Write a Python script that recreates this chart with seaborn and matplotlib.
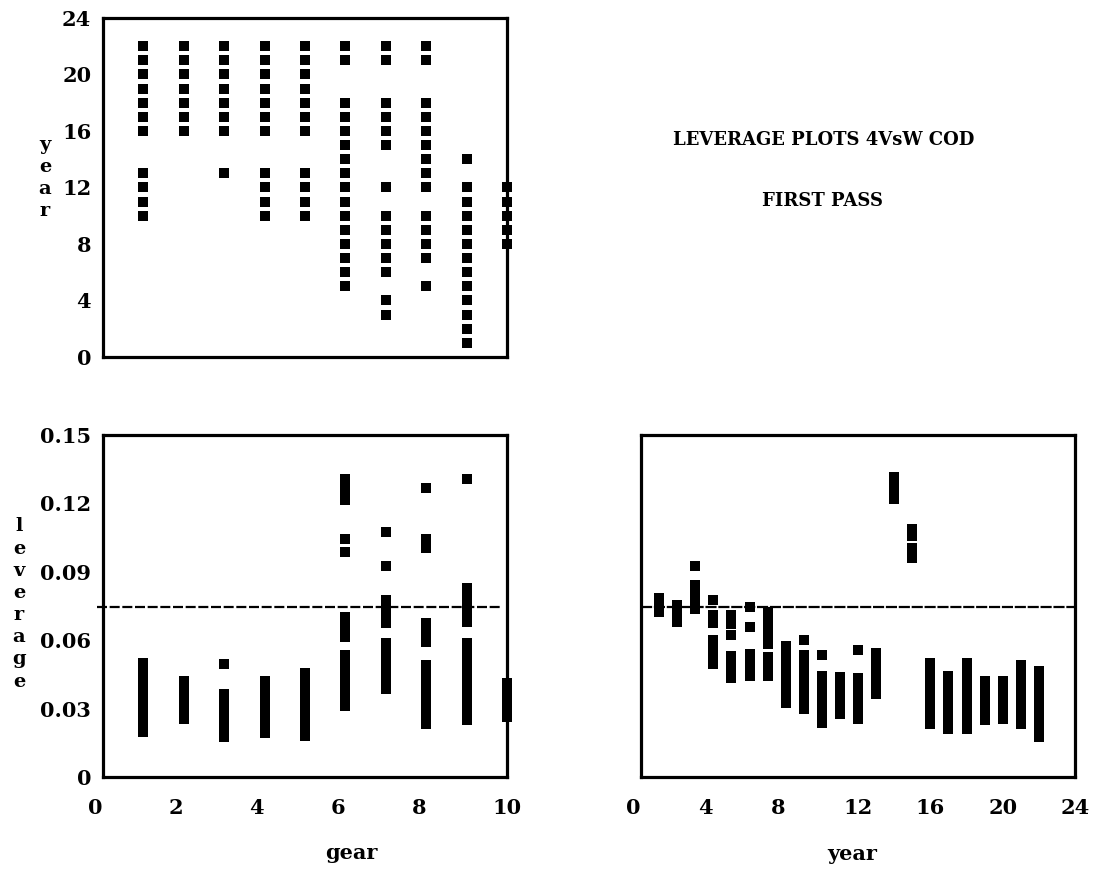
import matplotlib
matplotlib.use("Agg")
import matplotlib.pyplot as plt
import pandas as pd
import seaborn as sns

# ---------------------------------------------------------------------------
# Design: which years are present for each gear
# ---------------------------------------------------------------------------
gears = [1, 2, 3, 4, 5, 6, 7, 8, 9, 10]

years_gear1 = [10, 11, 12, 13, 16, 17, 18, 19, 20, 21, 22]
years_gear2 = [16, 17, 18, 19, 20, 21, 22]
years_gear3 = [13, 16, 17, 18, 19, 20, 21, 22]
years_gear4 = [10, 11, 12, 13, 16, 17, 18, 19, 20, 21, 22]
years_gear5 = [10, 11, 12, 13, 16, 17, 18, 19, 20, 21, 22]
years_gear6 = [5, 6, 7, 8, 9, 10, 11, 12, 13, 14, 15, 16, 17, 18, 21, 22]
years_gear7 = [3, 4, 6, 7, 8, 9, 10, 12, 15, 16, 17, 18, 21, 22]
years_gear8 = [5, 7, 8, 9, 10, 12, 13, 14, 15, 16, 17, 18, 21, 22]
years_gear9 = [1, 2, 3, 4, 5, 6, 7, 8, 9, 10, 11, 12, 14]
years_gear10 = [8, 9, 10, 11, 12]

# ---------------------------------------------------------------------------
# Leverage of each observation, grouped by gear
# ---------------------------------------------------------------------------
lev_gear1 = [0.050, 0.0462, 0.0424, 0.0386, 0.0348, 0.031, 0.0272, 0.0234, 0.0198]
lev_gear2 = [0.042, 0.0385, 0.035, 0.0315, 0.028, 0.0255]
lev_gear3 = [0.0495, 0.0365, 0.033, 0.0295, 0.026, 0.0225, 0.0195, 0.0175]
lev_gear4 = [0.042, 0.0385, 0.035, 0.0315, 0.028, 0.0245, 0.021, 0.0195]
lev_gear5 = [0.0457, 0.042, 0.0385, 0.035, 0.0315, 0.028, 0.0245, 0.021, 0.0182]
lev_gear6 = [0.1305, 0.127, 0.1238, 0.1215, 0.1045, 0.0985, 0.070, 0.0665, 0.063,
             0.0612, 0.0537, 0.050, 0.0465, 0.043, 0.0395, 0.036, 0.0325, 0.0312]
lev_gear7 = [0.1073, 0.0927, 0.0775, 0.074, 0.0705, 0.0675, 0.0588, 0.055, 0.0515,
             0.048, 0.0445, 0.041, 0.0387]
lev_gear8 = [0.1268, 0.1045, 0.1005, 0.0676, 0.0635, 0.059, 0.0493, 0.0455, 0.042,
             0.0385, 0.035, 0.0315, 0.028, 0.0245, 0.0233]
lev_gear9 = [0.1305, 0.083, 0.0795, 0.076, 0.0725, 0.069, 0.068, 0.0588, 0.055,
             0.0515, 0.048, 0.0445, 0.041, 0.0375, 0.034, 0.0305, 0.027, 0.0248]
lev_gear10 = [0.0413, 0.038, 0.0345, 0.031, 0.0275, 0.0263]

# ---------------------------------------------------------------------------
# Leverage of each observation, grouped by year
# ---------------------------------------------------------------------------
years = list(range(1, 23))

lev_year1 = [0.0785, 0.0755, 0.0725]
lev_year2 = [0.0755, 0.072, 0.068]
lev_year3 = [0.0925, 0.084, 0.080, 0.0765, 0.0735]
lev_year4 = [0.0775, 0.071, 0.0675, 0.060, 0.056, 0.0525, 0.0495]
lev_year5 = [0.071, 0.067, 0.0625, 0.053, 0.0495, 0.046, 0.0435]
lev_year6 = [0.0745, 0.066, 0.054, 0.0505, 0.047, 0.0443]
lev_year7 = [0.0725, 0.069, 0.065, 0.061, 0.0585, 0.0525, 0.0485, 0.0443]
lev_year8 = [0.0575, 0.054, 0.0505, 0.047, 0.043, 0.039, 0.0355, 0.0325]
lev_year9 = [0.060, 0.0535, 0.0495, 0.046, 0.042, 0.038, 0.034, 0.030, 0.0298]
lev_year10 = [0.0535, 0.0445, 0.041, 0.0375, 0.034, 0.0305, 0.027, 0.0238]
lev_year11 = [0.044, 0.0405, 0.037, 0.0335, 0.030, 0.0275]
lev_year12 = [0.0555, 0.0435, 0.040, 0.0365, 0.033, 0.029, 0.0255]
lev_year13 = [0.0545, 0.051, 0.047, 0.043, 0.039, 0.0365]
lev_year14 = [0.1315, 0.128, 0.1245, 0.1218]
lev_year15 = [0.1088, 0.1055, 0.1005, 0.0962]
lev_year16 = [0.0498, 0.046, 0.042, 0.038, 0.034, 0.030, 0.026, 0.0232]
lev_year17 = [0.0442, 0.041, 0.037, 0.033, 0.029, 0.025, 0.021]
lev_year18 = [0.050, 0.0465, 0.0425, 0.0385, 0.0345, 0.0305, 0.0265, 0.0225, 0.021]
lev_year19 = [0.042, 0.0385, 0.035, 0.0315, 0.028, 0.0248]
lev_year20 = [0.0423, 0.039, 0.035, 0.031, 0.028, 0.0253]
lev_year21 = [0.049, 0.0455, 0.0415, 0.0375, 0.0335, 0.0295, 0.0255, 0.0232]
lev_year22 = [0.0465, 0.043, 0.039, 0.035, 0.031, 0.027, 0.023, 0.0195, 0.0175]

cutoff = 0.0745

# tick values and labels
gear_ticks = [0, 2, 4, 6, 8, 10]
year_ticks = [0, 4, 8, 12, 16, 20, 24]
lev_ticks = [0, 0.03, 0.06, 0.09, 0.12, 0.15]
lev_labels = ["0", "0.03", "0.06", "0.09", "0.12", "0.15"]

title_line1 = "LEVERAGE PLOTS 4VsW COD"
title_line2 = "FIRST PASS"

# ---------------------------------------------------------------------------
# long-form tables
# ---------------------------------------------------------------------------
years_by_gear = [years_gear1, years_gear2, years_gear3, years_gear4, years_gear5,
                 years_gear6, years_gear7, years_gear8, years_gear9, years_gear10]
lev_by_gear = [lev_gear1, lev_gear2, lev_gear3, lev_gear4, lev_gear5,
               lev_gear6, lev_gear7, lev_gear8, lev_gear9, lev_gear10]
lev_by_year = [lev_year1, lev_year2, lev_year3, lev_year4, lev_year5, lev_year6,
               lev_year7, lev_year8, lev_year9, lev_year10, lev_year11, lev_year12,
               lev_year13, lev_year14, lev_year15, lev_year16, lev_year17, lev_year18,
               lev_year19, lev_year20, lev_year21, lev_year22]

design = pd.DataFrame([(g, y) for g, ys in zip(gears, years_by_gear) for y in ys],
                      columns=["gear", "year"])
lev_g = pd.DataFrame([(g, v) for g, vs in zip(gears, lev_by_gear) for v in vs],
                     columns=["gear", "leverage"])
lev_y = pd.DataFrame([(y, v) for y, vs in zip(years, lev_by_year) for v in vs],
                     columns=["year", "leverage"])

# ---------------------------------------------------------------------------
# figure
# ---------------------------------------------------------------------------
sns.set_style("white")
plt.rcParams["font.family"] = ["DejaVu Serif", "DejaVu Sans"]
plt.rcParams["font.weight"] = "bold"
plt.rcParams["text.color"] = "black"
plt.rcParams["xtick.color"] = "black"
plt.rcParams["ytick.color"] = "black"
plt.rcParams["xtick.labelcolor"] = "black"
plt.rcParams["ytick.labelcolor"] = "black"

W, H = 1093, 871
fig = plt.figure(figsize=(W / 100, H / 100), dpi=100)


def px_axes(left, top, right, bottom):
    return fig.add_axes([left / W, 1 - bottom / H, (right - left) / W, (bottom - top) / H])


ax_top = px_axes(103, 18, 507, 357)
ax_bl = px_axes(103, 435, 507, 777)
ax_br = px_axes(641, 435, 1075, 777)

FIG_SPACE = "\u2007"


def x_label_text(v):
    s = str(v)
    return s + FIG_SPACE if len(s) == 1 else s


tick_font = dict(fontsize=15, fontweight="bold", color="black")

for ax in (ax_top, ax_bl, ax_br):
    for sp in ax.spines.values():
        sp.set_linewidth(2.3)
        sp.set_color("black")
    ax.tick_params(length=0)

# top-left: design layout
sns.scatterplot(data=design, x="gear", y="year", marker="s", s=42, color="black",
                linewidth=0, ax=ax_top, clip_on=False, legend=False)
ax_top.set_xlim(0, 10)
ax_top.set_ylim(0, 24)
ax_top.set_xticks([])
ax_top.set_yticks(year_ticks)
ax_top.set_yticklabels([str(t) for t in year_ticks], **tick_font)
ax_top.tick_params(axis="y", pad=8.5)
ax_top.set_xlabel("")
ax_top.set_ylabel("")

# bottom-left: leverage by gear
sns.scatterplot(data=lev_g, x="gear", y="leverage", marker="s", s=48, color="black",
                linewidth=0, ax=ax_bl, clip_on=False, legend=False)
ax_bl.axhline(cutoff, xmin=-0.015, xmax=0.985, color="black", lw=1.6,
              dashes=(4.5, 1.2), clip_on=False)
ax_bl.set_xlim(0, 10)
ax_bl.set_ylim(0, 0.15)
ax_bl.set_xticks(gear_ticks)
ax_bl.set_xticklabels([x_label_text(t) for t in gear_ticks], **tick_font)
ax_bl.set_yticks(lev_ticks)
ax_bl.set_yticklabels(lev_labels, **tick_font)
ax_bl.tick_params(axis="x", pad=15)
ax_bl.tick_params(axis="y", pad=8.5)
ax_bl.set_xlabel("")
ax_bl.set_ylabel("")

# bottom-right: leverage by year
sns.scatterplot(data=lev_y, x="year", y="leverage", marker="s", s=44, color="black",
                linewidth=0, ax=ax_br, clip_on=False, legend=False)
ax_br.axhline(cutoff, xmin=0, xmax=1, color="black", lw=1.6, dashes=(5, 0.8))
ax_br.set_xlim(0, 24)
ax_br.set_ylim(0, 0.15)
ax_br.set_xticks(year_ticks)
ax_br.set_xticklabels([x_label_text(t) for t in year_ticks], **tick_font)
ax_br.set_yticks([])
ax_br.tick_params(axis="x", pad=15)
ax_br.set_xlabel("")
ax_br.set_ylabel("")

# axis titles, letters stacked vertically
label_font = dict(fontsize=14, fontweight="bold", ha="center", va="center",
                  color="black")
fig.text(45 / W, 1 - 178 / H, "\n".join("year"), linespacing=1.3, **label_font)
fig.text(19 / W, 1 - 604 / H, "\n".join("leverage"), linespacing=1.3, **label_font)
fig.text(351 / W, 1 - 853 / H, "gear", fontsize=15, fontweight="bold",
         ha="center", va="center", color="black")
fig.text(852 / W, 1 - 854 / H, "year", fontsize=15, fontweight="bold",
         ha="center", va="center", color="black")

# heading
fig.text(824 / W, 1 - 140 / H, title_line1, fontsize=13, fontweight="bold",
         ha="center", va="center", color="black")
fig.text(823 / W, 1 - 201 / H, title_line2, fontsize=13, fontweight="bold",
         ha="center", va="center", color="black")

fig.savefig("out.png", dpi=100)
